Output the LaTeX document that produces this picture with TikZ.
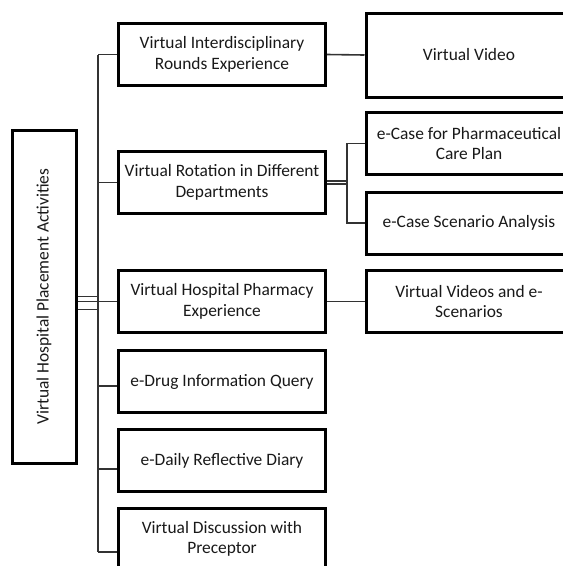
\documentclass[tikz,border=0pt]{standalone}
\usepackage{fontspec}
\newfontfamily\boxfont{Carlito}
\tikzset{
  box/.style={draw, line width=3pt, minimum width=207pt, minimum height=62pt,
    align=center, inner sep=2pt, text=black!90,
    font=\boxfont\fontsize{17.4}{20.5}\selectfont},
  subbox/.style={box, minimum width=206pt},
  conn/.style={draw=black!80, line width=1.6pt},
}
\begin{document}
\begin{tikzpicture}[x=1pt,y=-1pt]
\fill[white] (0,0) rectangle (563,566);
\clip (0,0) rectangle (563,566);

% root
\node[box, rotate=90, minimum width=333pt, minimum height=64pt] (root) at (44,296.5) {Virtual Hospital Placement Activities};

% first level
\node[box] (rounds) at (222,54.5) {Virtual Interdisciplinary\\Rounds Experience};
\node[box] (rotation) at (222,182.5) {Virtual Rotation in Different\\Departments};
\node[box] (pharmacy) at (222,301.5) {Virtual Hospital Pharmacy\\Experience};
\node[box] (query) at (222,381.5) {e-Drug Information Query};
\node[box] (diary) at (222,460.5) {e-Daily Reflective Diary};
\node[box] (preceptor) at (222,539) {Virtual Discussion with\\Preceptor};

% second level
\node[subbox, minimum height=84pt] (video) at (469,55) {Virtual Video};
\node[subbox] (careplan) at (469,143.5) {e-Case for Pharmaceutical\\Care Plan};
\node[subbox] (scenario) at (469,223) {e-Case Scenario Analysis};
\node[subbox] (videos) at (469,301.5) {Virtual Videos and e-\\Scenarios};

% bus
\coordinate (bus) at (98,0);
\coordinate (fork) at (347,0);
\coordinate (j4) at (98,386);
\coordinate (j5) at (98,469);
\coordinate (j6) at (98,552);

\draw[conn] (rounds.west -| bus) -- (j6);
\draw[conn] (rounds.west -| bus) -- (rounds.west);
\draw[conn] (rotation.west -| bus) -- (rotation.west);
\draw[conn] (root.south |- pharmacy.west) -- (pharmacy.west);
\draw[conn] ([yshift=5pt]root.south |- pharmacy.west) -- ([yshift=5pt]pharmacy.west -| bus);
\draw[conn] ([yshift=-8pt]root.south |- pharmacy.west) -- ([yshift=-8pt]pharmacy.west -| bus);
\draw[conn] (j4) -- (j4 -| query.west);
\draw[conn] (j5) -- (j5 -| diary.west);
\draw[conn] (j6) -- (j6 -| preceptor.west);

% second level connectors
\draw[conn] (rounds.east) -- (video.west);
\draw[conn] (pharmacy.east) -- (videos.west);
\draw[conn, line width=1.2pt] ([yshift=1.5pt]rotation.east) -- ([yshift=1.5pt]rotation.east -| fork);
\draw[conn, line width=1.2pt] ([yshift=-1.5pt]rotation.east) -- ([yshift=-1.5pt]rotation.east -| fork);
\draw[conn] (careplan.west) -- (careplan.west -| fork) -- (scenario.west -| fork) -- (scenario.west);

\end{tikzpicture}
\end{document}
